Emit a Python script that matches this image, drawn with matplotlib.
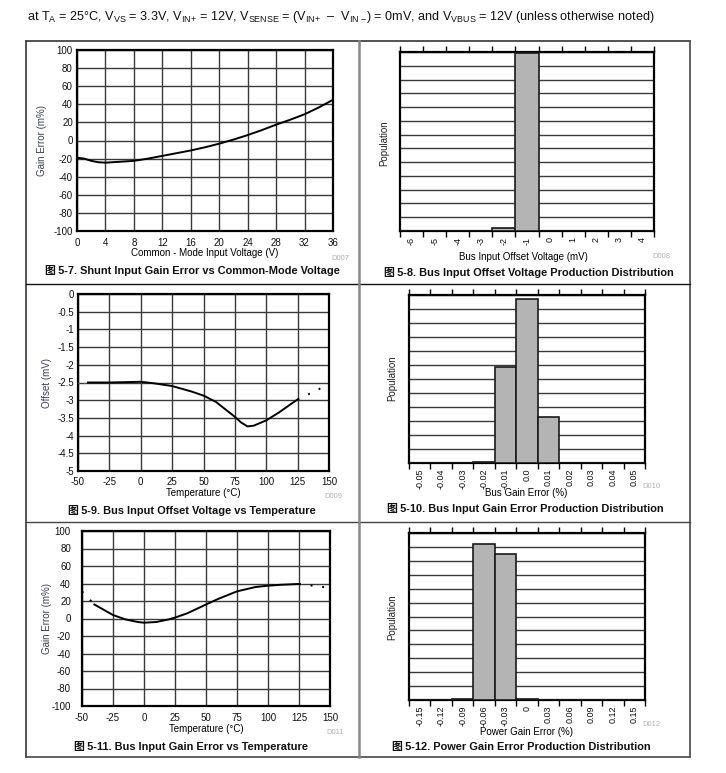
import numpy as np
import matplotlib
matplotlib.use("Agg")
import matplotlib.pyplot as plt
from matplotlib.lines import Line2D

plt.rcParams['font.family'] = ['Liberation Sans', 'Noto Sans CJK SC', 'DejaVu Sans']
plt.rcParams['mathtext.fontset'] = 'custom'
plt.rcParams['mathtext.rm'] = 'Liberation Sans'
plt.rcParams['mathtext.it'] = 'Liberation Sans:italic'
plt.rcParams['mathtext.bf'] = 'Liberation Sans:bold'
plt.rcParams['axes.unicode_minus'] = False

# ---- data ----
# 5-7 shunt input gain error vs common-mode voltage
cm_volt = [0, 1, 2, 3, 4, 6, 8, 10, 12, 14, 16, 18, 20, 22, 24, 26, 28, 30, 32, 34, 36]
cm_gain_err = [-19, -20, -22.5, -24, -24.5, -23.5, -22.5, -20, -17, -14, -11, -7.5,
               -3.5, 1, 6, 11.5, 17.5, 23, 29, 36.5, 45]

# 5-8 bus input offset histogram
offs_bins = [-6, -5, -4, -3, -2, -1, 0, 1, 2, 3, 4]
offs_counts = [0, 0, 0, 0, 19, 1293, 0, 0, 0, 0, 0]
offs_labels = ['-6', '-5', '-4', '-3', '-2', '-1', '0', '1', '2', '3', '4']

# 5-9 bus offset vs temperature
offs_temp = [-42, -25, 0, 10, 25, 40, 50, 60, 70, 75, 80, 85, 90, 100, 110, 120, 125]
offs_mv = [-2.5, -2.5, -2.48, -2.52, -2.6, -2.75, -2.87, -3.05, -3.33, -3.47, -3.63,
           -3.74, -3.72, -3.57, -3.35, -3.1, -2.98]
offs_temp_lo = [-50, -42]
offs_mv_lo = [-2.5, -2.5]
offs_temp_hi = [125, 150]
offs_mv_hi = [-2.98, -2.55]

# 5-10 bus gain error histogram
bge_bins = [-0.05, -0.04, -0.03, -0.02, -0.01, 0.0, 0.01, 0.02, 0.03, 0.04, 0.05]
bge_counts = [0, 0, 0, 5, 687, 1171, 332, 0, 0, 0, 0]
bge_labels = ['-0.05', '-0.04', '-0.03', '-0.02', '-0.01', '0.0', '0.01', '0.02',
              '0.03', '0.04', '0.05']

# 5-11 bus gain error vs temperature
ge_temp = [-40, -35, -30, -25, -15, -5, 0, 10, 20, 25, 35, 50, 60, 75, 90, 100, 110, 125]
ge_val = [16, 12, 8, 4, -1, -4, -4.8, -4, -1, 1, 6, 16, 22.5, 31, 36, 37.5, 38.5, 39.5]
ge_temp_lo = [-50, -40]
ge_val_lo = [31, 16]
ge_temp_hi = [125, 150]
ge_val_hi = [39.5, 35]

# 5-12 power gain error histogram
pge_bins = [-0.15, -0.12, -0.09, -0.06, -0.03, 0.0, 0.03, 0.06, 0.09, 0.12, 0.15]
pge_counts = [0, 0, 8, 1123, 1050, 8, 0, 0, 0, 0, 0]
pge_labels = ['-0.15', '-0.12', '-0.09', '-0.06', '-0.03', '0', '0.03', '0.06',
              '0.09', '0.12', '0.15']

W, H = 726, 773
fig = plt.figure(figsize=(W / 100, H / 100), dpi=100)
fig.patch.set_facecolor('white')

TICK_FS = 7
HIST_FS = 6.5
LBL_FS = 7
GRID_C = '#3a3a3a'
YLBL_C = '#34405a'


def ax_px(l, t, r, b):
    return fig.add_axes([l / W, 1 - b / H, (r - l) / W, (b - t) / H])


def ftext(x, y, s, **kw):
    fig.text(x / W, 1 - y / H, s, **kw)


def style_line_axes(ax, xt, yt, xpad, ypad):
    ax.set_xticks(xt)
    ax.set_yticks(yt)
    ax.set_xlim(xt[0], xt[-1])
    ax.set_ylim(yt[0], yt[-1])
    ax.grid(True, color=GRID_C, lw=1)
    ax.set_axisbelow(True)
    ax.tick_params(length=0, labelsize=TICK_FS, colors='#111111')
    ax.tick_params(axis='x', pad=xpad)
    ax.tick_params(axis='y', pad=ypad)
    for s in ax.spines.values():
        s.set_linewidth(1.6)
        s.set_color('black')


def style_hist(ax, centers, counts, labels, step, ymax):
    ax.bar(centers, counts, width=step, color='#b4b4b4', edgecolor='#1a1a1a',
           linewidth=1.2, zorder=3)
    edges = [c - step / 2 for c in centers] + [centers[-1] + step / 2]
    ax.set_xlim(edges[0], edges[-1])
    ax.set_ylim(0, ymax)
    ax.set_yticks(np.arange(0, ymax + 1, 100))
    ax.yaxis.grid(True, color=GRID_C, lw=1)
    ax.set_axisbelow(True)
    ax.tick_params(axis='y', left=False, labelleft=False)
    ax.set_xticks(edges)
    ax.set_xticklabels([])
    ax.tick_params(axis='x', which='major', direction='out', length=4, width=1,
                   top=True, bottom=True)
    ax.set_xticks(centers, minor=True)
    ax.set_xticklabels(labels, minor=True, rotation=90, fontsize=HIST_FS, va='top')
    ax.tick_params(axis='x', which='minor', length=0, pad=4, colors='#111111')
    for s in ax.spines.values():
        s.set_linewidth(1.6)
        s.set_color('black')


# ---- panel 5-7 ----
ax1 = ax_px(77, 50, 333, 231)
ax1.plot(cm_volt, cm_gain_err, color='black', lw=1.4, zorder=3)
style_line_axes(ax1, list(range(0, 37, 4)), list(range(-100, 101, 20)), 5, 3)

# ---- panel 5-8 ----
ax2 = ax_px(400, 52, 654, 231)
style_hist(ax2, offs_bins, offs_counts, offs_labels, 1, 1300)

# ---- panel 5-9 ----
ax3 = ax_px(78, 294, 329, 471)
ax3.plot(offs_temp, offs_mv, color='black', lw=1.4, zorder=3)
ax3.plot(offs_temp_lo, offs_mv_lo, color='#777777', lw=1, ls=(0, (1, 3)), zorder=3)
ax3.plot(offs_temp_hi, offs_mv_hi, color='black', lw=1.4, ls=(0, (1, 5)), zorder=3)
style_line_axes(ax3, list(range(-50, 151, 25)), list(np.arange(-5, 0.01, 0.5)), 4, 3)
ax3.set_yticklabels(['-5', '-4.5', '-4', '-3.5', '-3', '-2.5', '-2', '-1.5', '-1', '-0.5', '0'])

# ---- panel 5-10 ----
ax4 = ax_px(409, 295, 645, 463)
style_hist(ax4, bge_bins, bge_counts, bge_labels, 0.01, 1200)

# ---- panel 5-11 ----
ax5 = ax_px(82, 531, 330, 706)
ax5.plot(ge_temp, ge_val, color='black', lw=1.4, zorder=3)
ax5.plot(ge_temp_lo, ge_val_lo, color='black', lw=1.4, ls=(0, (1, 5)), zorder=3)
ax5.plot(ge_temp_hi, ge_val_hi, color='black', lw=1.4, ls=(0, (1, 5)), zorder=3)
style_line_axes(ax5, list(range(-50, 151, 25)), list(range(-100, 101, 20)), 5, 8)

# ---- panel 5-12 ----
ax6 = ax_px(409, 533, 645, 700)
style_hist(ax6, pge_bins, pge_counts, pge_labels, 0.03, 1200)

# ---- axis labels ----
ftext(205, 253, 'Common - Mode Input Voltage (V)', ha='center', va='center', fontsize=LBL_FS)
ftext(42, 140, 'Gain Error (m%)', ha='center', va='center', rotation=90, fontsize=LBL_FS, color=YLBL_C)
ftext(523, 257, 'Bus Input Offset Voltage (mV)', ha='center', va='center', fontsize=LBL_FS)
ftext(384, 143, 'Population', ha='center', va='center', rotation=90, fontsize=LBL_FS, color='#222222')
ftext(203, 493, 'Temperature (°C)', ha='center', va='center', fontsize=LBL_FS)
ftext(47, 383, 'Offset (mV)', ha='center', va='center', rotation=90, fontsize=LBL_FS, color=YLBL_C)
ftext(526, 493, 'Bus Gain Error (%)', ha='center', va='center', fontsize=LBL_FS)
ftext(392, 378, 'Population', ha='center', va='center', rotation=90, fontsize=LBL_FS, color='#222222')
ftext(206, 729, 'Temperature (°C)', ha='center', va='center', fontsize=LBL_FS)
ftext(47, 618, 'Gain Error (m%)', ha='center', va='center', rotation=90, fontsize=LBL_FS, color=YLBL_C)
ftext(527, 732, 'Power Gain Error (%)', ha='center', va='center', fontsize=LBL_FS)
ftext(392, 617, 'Population', ha='center', va='center', rotation=90, fontsize=LBL_FS, color='#222222')

# ---- figure codes ----
for x, y, s in [(340, 258, 'D007'), (661, 257, 'D008'), (333, 497, 'D009'),
                (651, 487, 'D010'), (335, 732, 'D011'), (651, 724, 'D012')]:
    ftext(x, y, s, ha='center', va='center', fontsize=5.5, color='#b0b0b0')

# ---- captions ----
caps = [(192, 271, '图\u20095-7. Shunt Input Gain Error vs Common-Mode Voltage'),
        (529, 272, '图\u20095-8. Bus Input Offset Voltage Production Distribution'),
        (192, 510, '图\u20095-9. Bus Input Offset Voltage vs Temperature'),
        (525, 508, '图\u20095-10. Bus Input Gain Error Production Distribution'),
        (191, 747, '图\u20095-11. Bus Input Gain Error vs Temperature'),
        (521, 747, '图\u20095-12. Power Gain Error Production Distribution')]
for x, y, s in caps:
    ftext(x, y, s, ha='center', va='center', fontsize=7.9, fontweight='bold', color='#111111')

# ---- header ----
header = (r'at T$_\mathrm{A}$ = 25°C, V$_\mathrm{VS}$ = 3.3V, V$_\mathrm{IN{+}}$ = 12V, '
          r'V$_\mathrm{SENSE}$ = (V$_\mathrm{IN{+}}$  –  V$_\mathrm{IN\ {-}}$) = 0mV, and '
          r'V$_\mathrm{VBUS}$ = 12V (unless otherwise noted)')
ftext(27, 17, header, ha='left', va='center', fontsize=9.1, color='#111111')

# ---- frame of the figure table ----
def fline(x0, y0, x1, y1, c, lw):
    fig.add_artist(Line2D([x0 / W, x1 / W], [1 - y0 / H, 1 - y1 / H], color=c, lw=lw,
                          transform=fig.transFigure))

fline(26, 41, 690, 41, '#444444', 1.3)
fline(26, 757, 690, 757, '#555555', 1.3)
fline(26, 41, 26, 757, '#444444', 1.3)
fline(690, 41, 690, 757, '#555555', 1.3)
fline(26, 284, 690, 284, '#111111', 1.0)
fline(26, 522, 690, 522, '#444444', 1.0)
fline(358.5, 41, 358.5, 757, '#888888', 1.8)

fig.savefig('out.png', dpi=100, facecolor='white')
